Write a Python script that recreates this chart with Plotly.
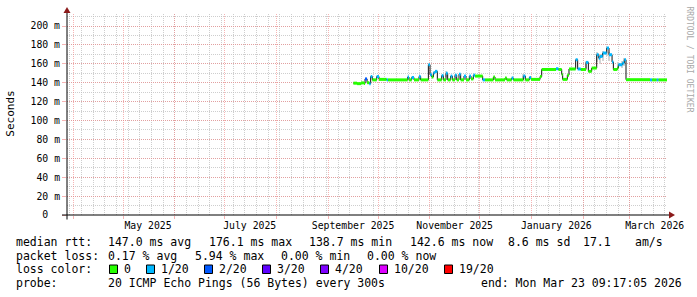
import plotly.graph_objects as go

# ---------------- data ----------------
start_time = "2025-03-28 09:17:05"
end_time = "2026-03-23 09:17:05"

med_t = [
    "2025-09-16 05:00", "2025-09-18 10:00", "2025-09-20 19:00", "2025-09-22 14:00",
    "2025-09-23 05:00", "2025-09-24 10:00", "2025-09-25 19:00", "2025-09-26 14:00",
    "2025-09-27 14:00", "2025-09-30 05:00", "2025-10-01 14:00", "2025-10-06 05:00",
    "2025-10-07 00:00", "2025-10-18 19:00", "2025-10-19 14:00", "2025-10-21 05:00",
    "2025-10-22 14:00", "2025-10-25 14:00", "2025-10-26 14:00", "2025-10-31 05:00",
    "2025-11-01 05:00", "2025-11-02 05:00", "2025-11-03 05:00", "2025-11-04 05:00",
    "2025-11-05 14:00", "2025-11-08 05:00", "2025-11-09 05:00", "2025-11-10 19:00",
    "2025-11-11 19:00", "2025-11-13 14:00", "2025-11-14 14:00", "2025-11-16 05:00",
    "2025-11-17 05:00", "2025-11-18 14:00", "2025-11-19 14:00", "2025-11-21 14:00",
    "2025-11-22 19:00", "2025-11-24 19:00", "2025-11-25 19:00", "2025-11-27 05:00",
    "2025-11-28 05:00", "2025-12-02 19:00", "2025-12-04 05:00", "2025-12-09 05:00",
    "2025-12-10 05:00", "2025-12-16 05:00", "2025-12-17 05:00", "2025-12-20 05:00",
    "2025-12-21 05:00", "2025-12-27 05:00", "2025-12-28 10:00", "2025-12-30 19:00",
    "2025-12-31 19:00", "2026-01-06 05:00", "2026-01-07 05:00", "2026-01-15 19:00",
    "2026-01-17 05:00", "2026-01-19 05:00", "2026-01-19 19:00", "2026-01-22 14:00",
    "2026-01-23 14:00", "2026-01-27 14:00", "2026-01-28 19:00", "2026-01-30 14:00",
    "2026-02-02 19:00", "2026-02-04 05:00", "2026-02-06 05:00", "2026-02-09 05:00",
    "2026-02-10 10:00", "2026-02-11 05:00", "2026-02-12 19:00", "2026-02-15 05:00",
    "2026-02-16 14:00", "2026-02-18 10:00", "2026-02-19 05:00", "2026-02-21 14:00",
    "2026-02-22 05:00", "2026-02-24 14:00", "2026-02-25 19:00", "2026-02-26 19:00",
    "2026-03-13 05:00", "2026-03-14 10:00", "2026-03-17 05:00", "2026-03-18 05:00",
]
med_ms = [
    139.5, 139.0, 139.8, 139.2, 144.0, 140.0, 139.0, 146.5, 143.0, 146.5, 143.5, 143.0,
    143.0, 146.0, 143.0, 145.5, 143.0, 146.5, 143.0, 159.0, 148.5, 146.0, 150.5, 152.0,
    143.0, 147.5, 143.0, 150.0, 143.0, 147.0, 143.0, 148.0, 143.0, 149.0, 143.0, 147.0,
    143.0, 147.0, 144.0, 148.0, 147.0, 143.0, 143.0, 146.0, 143.0, 145.0, 143.0, 145.0,
    143.0, 147.0, 143.0, 145.5, 143.5, 146.5, 154.0, 154.8, 154.0, 148.8, 143.5, 148.0,
    154.5, 164.3, 154.5, 154.0, 161.5, 152.0, 155.5, 169.6, 166.0, 167.8, 171.4, 176.7,
    169.6, 162.0, 154.0, 155.5, 159.0, 160.8, 164.3, 143.2, 143.0, 143.0, 143.0, 143.0,
]
med_loss = [
    0, 0, 0, 0, 2, 0, 1, 1, 0, 1, 0, 1,
    0, 1, 0, 1, 0, 1, 0, 1, 1, 0, 1, 1,
    0, 1, 0, 1, 0, 1, 0, 1, 0, 1, 0, 1,
    0, 1, 0, 1, 0, 1, 0, 0, 0, 0, 0, 1,
    0, 1, 0, 1, 0, 0, 0, 1, 0, 0, 0, 0,
    0, 1, 1, 0, 1, 0, 0, 1, 1, 1, 1, 1,
    1, 1, 0, 0, 1, 1, 1, 0, 1, 0, 1, 0,
]

smoke_t = ["2025-11-10 19:00", "2025-12-27 05:00", "2026-02-02 19:00", "2026-02-09 05:00",
           "2026-02-11 05:00", "2026-02-12 19:00", "2026-02-15 05:00", "2026-02-16 14:00",
           "2026-02-22 05:00", "2026-02-24 14:00", "2026-02-25 19:00"]
smoke_lo = [146.0, 144.0, 156.0, 162.0, 160.0, 163.0, 168.0, 163.0, 154.0, 156.0, 158.0]
smoke_hi = [152.0, 149.0, 163.0, 172.0, 170.0, 174.0, 178.0, 172.0, 162.0, 163.0, 166.0]

loss_colors = ["#26ff00", "#00b8ff", "#0059ff", "#5e00ff", "#7e00ff", "#dd00ff", "#ff0000"]
loss_labels = ["0", "1/20", "2/20", "3/20", "4/20", "10/20", "19/20"]

x_label_vals = ["2025-05-16", "2025-07-16", "2025-09-16", "2025-11-16", "2026-01-16", "2026-03-16"]
x_label_text = ["May 2025", "July 2025", "September 2025", "November 2025", "January 2026", "March 2026"]
month_starts = ["2025-04-01", "2025-05-01", "2025-06-01", "2025-07-01", "2025-08-01", "2025-09-01",
                "2025-10-01", "2025-11-01", "2025-12-01", "2026-01-01", "2026-02-01", "2026-03-01"]
y_tick_vals = [0, 20, 40, 60, 80, 100, 120, 140, 160, 180, 200]
y_tick_text = ["0\u00a0\u00a0"] + [f"{v} m" for v in y_tick_vals[1:]]

legend_rows = [
    [(16, "median rtt:"), (108, "147.0 ms avg"), (208.5, "176.1 ms max"), (309, "138.7 ms min"),
     (409.5, "142.6 ms now"), (508, "8.6 ms sd"), (583, "17.1"), (635, "am/s")],
    [(16, "packet loss:"), (108, "0.17 % avg"), (195, "5.94 % max"), (280.5, "0.00 % min"),
     (366.5, "0.00 % now")],
    [(16, "loss color:")],
    [(16, "probe:"), (108, "20 ICMP Echo Pings (56 Bytes) every 300s"),
     (481, "end: Mon Mar 23 09:17:05 2026")],
]
legend_row_y = [241.5, 255.6, 269.2, 283.4]
loss_box_x = [109.5, 146.5, 204.5, 262.5, 320.5, 379.5, 444.5]

# ---------------- geometry ----------------
W, H = 697, 297
L, R, T, B = 67, 30, 14, 82
PW, PH = W - L - R, H - T - B
Y_MAX = 212.7


def px(x):
    return (x - L) / PW


def py(y):
    return (H - B - y) / PH


MONO = "DejaVu Sans Mono"
MAJOR = "rgba(240,130,130,0.6)"
MINOR = "rgba(190,190,190,0.75)"
DAY_MS = 86400000

fig = go.Figure()

# empty trace so the label axis is drawn
fig.add_trace(go.Scatter(x=[], y=[], mode="lines", hoverinfo="skip", showlegend=False,
                         xaxis="x", yaxis="y"))

# smoke
fig.add_trace(go.Bar(
    x=smoke_t, y=[h - l for h, l in zip(smoke_hi, smoke_lo)], base=smoke_lo,
    width=1.2 * DAY_MS, marker=dict(color="#d4d4d4", line=dict(width=0)),
    hoverinfo="skip", showlegend=False, xaxis="x2", yaxis="y"))

# black median step line
fig.add_trace(go.Scatter(
    x=med_t + [end_time], y=med_ms + [med_ms[-1]], mode="lines",
    line=dict(color="#101010", width=1, shape="hv"),
    hoverinfo="skip", showlegend=False, xaxis="x2", yaxis="y"))

# loss-coloured median segments
for b, col in enumerate(loss_colors):
    xs, ys = [], []
    for i in range(len(med_t)):
        if med_loss[i] != b:
            continue
        t1 = med_t[i + 1] if i + 1 < len(med_t) else end_time
        xs += [med_t[i], t1, None]
        ys += [med_ms[i], med_ms[i], None]
    if xs:
        fig.add_trace(go.Scatter(
            x=xs, y=ys, mode="lines", line=dict(color=col, width=3),
            hoverinfo="skip", showlegend=False, xaxis="x2", yaxis="y"))

shapes = []
shapes.append(dict(type="line", xref="paper", yref="paper", x0=px(62), x1=px(670), y0=py(215), y1=py(215),
                   line=dict(color="#000000", width=1)))
shapes.append(dict(type="line", xref="paper", yref="paper", x0=px(67), x1=px(67), y0=py(219.5), y1=py(12),
                   line=dict(color="#000000", width=1)))
shapes.append(dict(type="path", xref="paper", yref="paper",
                   path=f"M {px(669)} {py(211.5)} L {px(675)} {py(215)} L {px(669)} {py(218.5)} Z",
                   fillcolor="#8b1a1a", line=dict(width=0)))
shapes.append(dict(type="path", xref="paper", yref="paper",
                   path=f"M {px(63.5)} {py(13)} L {px(67)} {py(7)} L {px(70.5)} {py(13)} Z",
                   fillcolor="#8b1a1a", line=dict(width=0)))
for bx, col in zip(loss_box_x, loss_colors):
    shapes.append(dict(type="rect", xref="paper", yref="paper",
                       x0=px(bx), x1=px(bx + 8), y0=py(273.5), y1=py(265),
                       fillcolor=col, line=dict(color="#000000", width=1)))

annotations = []
for row, yy in zip(legend_rows, legend_row_y):
    for xx, txt in row:
        annotations.append(dict(xref="paper", yref="paper", x=px(xx - 1), y=py(yy), text=txt,
                                showarrow=False, xanchor="left", yanchor="middle", borderpad=0,
                                font=dict(family=MONO, size=11.5, color="#000000")))
for bx, lab in zip(loss_box_x, loss_labels):
    annotations.append(dict(xref="paper", yref="paper", x=px(bx + 13.5), y=py(legend_row_y[2]), text=lab,
                            showarrow=False, xanchor="left", yanchor="middle", borderpad=0,
                            font=dict(family=MONO, size=11.5, color="#000000")))
annotations.append(dict(xref="paper", yref="paper", x=px(11), y=py(113.7), text="Seconds",
                        textangle=-90, showarrow=False, xanchor="center", yanchor="middle",
                        font=dict(family=MONO, size=11, color="#000000")))
annotations.append(dict(xref="paper", yref="paper", x=px(688.5), y=py(59), text="RRDTOOL / TOBI OETIKER",
                        textangle=90, showarrow=False, xanchor="center", yanchor="middle",
                        font=dict(family=MONO, size=8, color="#a8a8a8")))

fig.update_layout(
    width=W, height=H, margin=dict(l=L, r=R, t=T, b=B, pad=0),
    paper_bgcolor="#ffffff", plot_bgcolor="#ffffff",
    showlegend=False, bargap=0, barmode="overlay",
    xaxis=dict(type="date", range=[start_time, end_time], tickmode="array",
               tickvals=x_label_vals, ticktext=x_label_text, showgrid=False, zeroline=False,
               showline=False, ticks="", ticklabelstandoff=3,
               tickfont=dict(family=MONO, size=9.8, color="#000000"), fixedrange=True),
    xaxis2=dict(type="date", range=[start_time, end_time], overlaying="x", side="bottom",
                tickmode="array", tickvals=month_starts, showticklabels=False,
                showgrid=True, gridcolor=MAJOR, griddash="1px,1px", gridwidth=1,
                ticks="outside", ticklen=3, tickcolor=MAJOR, zeroline=False, showline=False,
                minor=dict(tick0="2025-03-30", dtick=7 * DAY_MS, showgrid=True, gridcolor=MINOR,
                           griddash="1px,1px", gridwidth=1, ticks=""),
                fixedrange=True),
    yaxis=dict(range=[0, Y_MAX], tickmode="array", tickvals=y_tick_vals, ticktext=y_tick_text,
               showgrid=True, gridcolor=MAJOR, griddash="1px,1px", gridwidth=1,
               ticks="outside", ticklen=4, tickcolor=MAJOR, zeroline=False, showline=False,
               tickfont=dict(family=MONO, size=9.8, color="#000000"),
               minor=dict(dtick=10, showgrid=True, gridcolor=MINOR, griddash="1px,1px", gridwidth=1,
                          ticks=""),
               fixedrange=True),
    shapes=shapes, annotations=annotations,
)

fig.write_html("out.html")
